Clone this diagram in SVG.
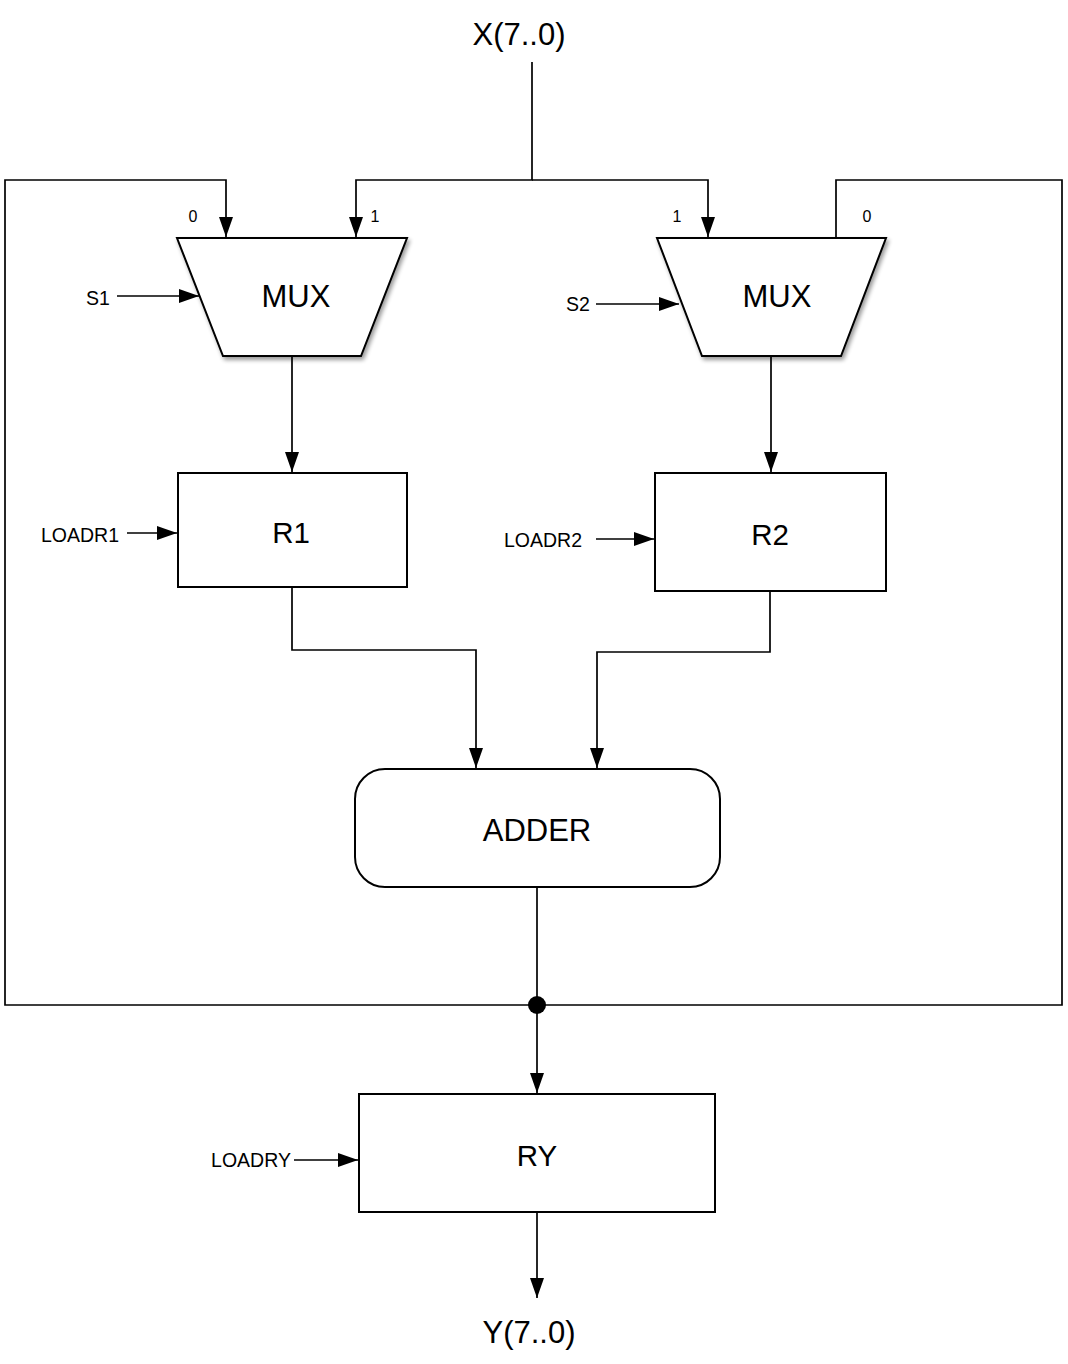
<svg xmlns="http://www.w3.org/2000/svg" width="1068" height="1364" viewBox="0 0 1068 1364">
<style>
  text { font-family: "Liberation Sans", Arial, sans-serif; fill: #000; text-anchor: middle; }
  .big { font-size: 31px; }
  .reg { font-size: 29.5px; }
  .sm { font-size: 19.5px; }
  .pin { font-size: 16px; }
  .box { fill: #fff; stroke: #000; stroke-width: 2; }
  .wire { fill: none; stroke: #000; stroke-width: 1.7; }
  .arr { marker-end: url(#ah); }
</style>
<defs>
  <marker id="ah" viewBox="0 0 20 14" refX="20" refY="7" markerWidth="20" markerHeight="14" orient="auto" markerUnits="userSpaceOnUse">
    <path d="M0,0 L20,7 L0,14 Z" fill="#000"/>
  </marker>
  <filter id="sh" x="-10%" y="-10%" width="130%" height="130%">
    <feGaussianBlur in="SourceAlpha" stdDeviation="2"/>
    <feOffset dx="2" dy="3" result="b"/>
    <feComponentTransfer><feFuncA type="linear" slope="0.4"/></feComponentTransfer>
    <feMerge><feMergeNode/><feMergeNode in="SourceGraphic"/></feMerge>
  </filter>
</defs>

<g id="connectors">
  <path class="wire arr" d="M532,62 V180 H356 V237"/>
  <path class="wire arr" d="M532,180 H708 V237"/>
  <path class="wire arr" d="M537,1005 H5 V180 H226 V237"/>
  <path class="wire" d="M537,1005 H1062 V180 H836 V238"/>
  <path class="wire arr" d="M117,296 H199"/>
  <path class="wire arr" d="M596,304 H679"/>
  <path class="wire arr" d="M292,356 V472"/>
  <path class="wire arr" d="M771,356 V472"/>
  <path class="wire arr" d="M127,533 H177"/>
  <path class="wire arr" d="M596,539 H654"/>
  <path class="wire arr" d="M292,587 V650 H476 V768"/>
  <path class="wire arr" d="M770,591 V652 H597 V768"/>
  <path class="wire arr" d="M537,887 V1093"/>
  <path class="wire arr" d="M294,1160 H358"/>
  <path class="wire arr" d="M537,1212 V1298"/>
  <circle cx="537" cy="1005" r="9" fill="#000"/>
</g>

<g id="mux1">
  <polygon class="box" filter="url(#sh)" points="177,238 407,238 361,356 223,356"/>
  <text class="big" x="296" y="307">MUX</text>
  <text class="pin" x="193" y="222">0</text>
  <text class="pin" x="375" y="222">1</text>
</g>
<g id="mux2">
  <polygon class="box" filter="url(#sh)" points="657,238 886,238 841,356 702,356"/>
  <text class="big" x="777" y="307">MUX</text>
  <text class="pin" x="677" y="222">1</text>
  <text class="pin" x="867" y="222">0</text>
</g>
<g id="r1">
  <rect class="box" x="178" y="473" width="229" height="114"/>
  <text class="reg" x="291" y="543">R1</text>
</g>
<g id="r2">
  <rect class="box" x="655" y="473" width="231" height="118"/>
  <text class="reg" x="770" y="545">R2</text>
</g>
<g id="adder">
  <rect class="box" x="355" y="769" width="365" height="118" rx="30" ry="30"/>
  <text class="big" x="537" y="841">ADDER</text>
</g>
<g id="ry">
  <rect class="box" x="359" y="1094" width="356" height="118"/>
  <text class="reg" x="537" y="1166">RY</text>
</g>
<g id="labels">
  <text class="big" x="519" y="45">X(7..0)</text>
  <text class="big" x="529" y="1343">Y(7..0)</text>
  <text class="sm" x="98" y="305">S1</text>
  <text class="sm" x="578" y="311">S2</text>
  <text class="sm" x="80" y="542">LOADR1</text>
  <text class="sm" x="543" y="547">LOADR2</text>
  <text class="sm" x="251" y="1167">LOADRY</text>
</g>
</svg>
